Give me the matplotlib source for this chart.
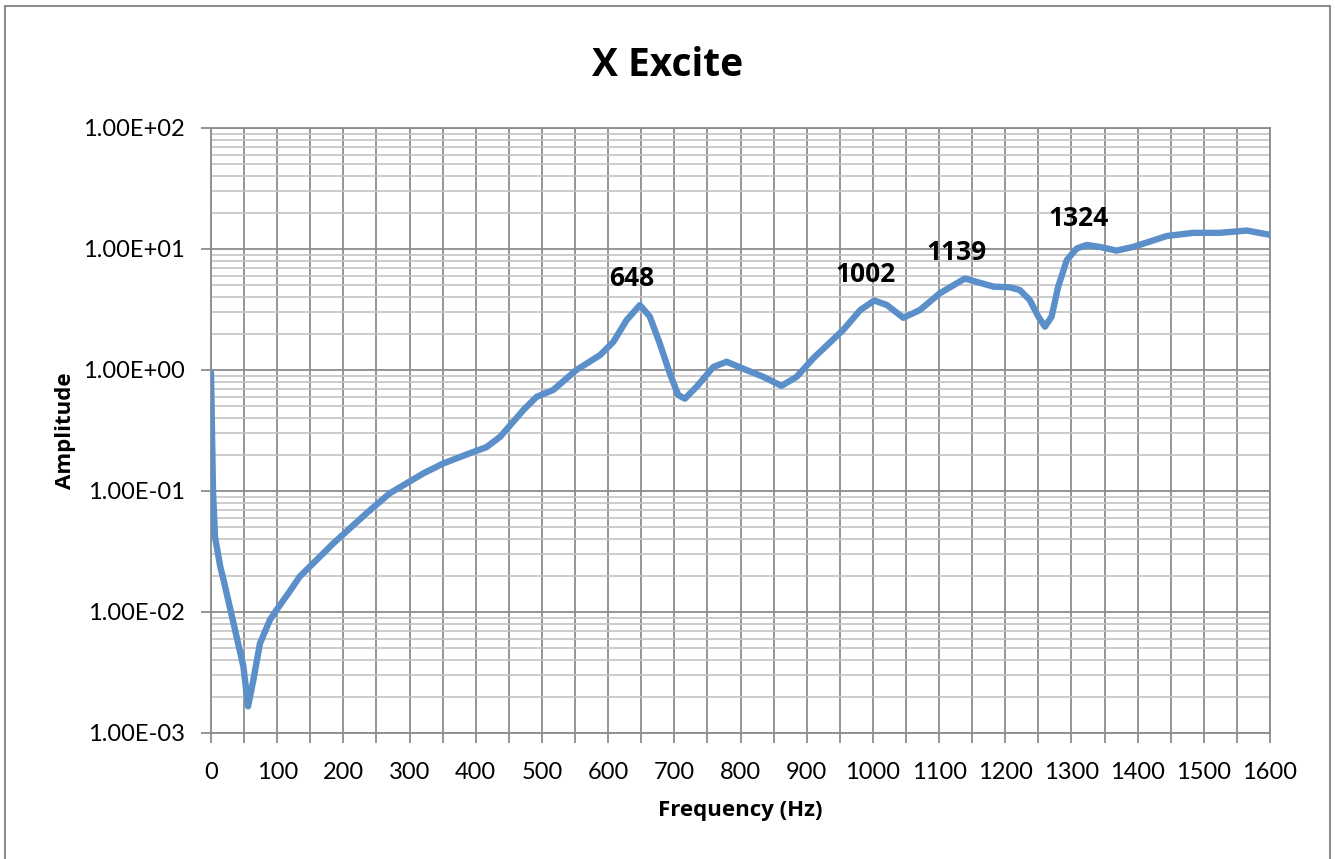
import matplotlib
matplotlib.use("Agg")
import matplotlib.pyplot as plt
from matplotlib.ticker import MultipleLocator, LogLocator, FuncFormatter, NullFormatter
from matplotlib.patches import Rectangle

plt.rcParams['font.family'] = ['Lato', 'DejaVu Sans']
BOLD = ['Open Sans', 'DejaVu Sans']

# frequency response, X excitation
freq = [0, 3, 6, 14, 19, 34, 49, 56, 64, 74, 89, 99, 117, 134, 185, 235,
        270, 321, 351, 391, 416, 437, 472, 492, 517, 552, 588, 608, 628,
        648, 663, 678, 693, 706, 716, 734, 759, 779, 809, 834, 862, 885,
        910, 955, 981, 1002, 1021, 1046, 1071, 1101, 1139, 1182, 1207,
        1222, 1237, 1250, 1260, 1270, 1280, 1293, 1308, 1323, 1343, 1368,
        1393, 1420, 1444, 1484, 1524, 1565, 1600]
amp = [0.95, 0.1, 0.042, 0.0237, 0.0184, 0.0081, 0.00353, 0.00166, 0.00274,
       0.0055, 0.0086, 0.0104, 0.0143, 0.0196, 0.037, 0.0655,
       0.0957, 0.14, 0.169, 0.205, 0.23, 0.281, 0.467, 0.60, 0.684, 1.0,
       1.33, 1.71, 2.59, 3.44, 2.76, 1.66, 0.94, 0.62, 0.58, 0.73, 1.06,
       1.17, 1.0, 0.88, 0.74, 0.88, 1.25, 2.14, 3.13, 3.75, 3.45, 2.7,
       3.13, 4.3, 5.7, 4.89, 4.82, 4.58, 3.79, 2.76, 2.28, 2.76, 4.89,
       8.1, 10.1, 10.8, 10.4, 9.7, 10.4, 11.6, 12.8, 13.6, 13.6, 14.2, 13.1]

# labelled peaks: (frequency, amplitude)
peak_freq = [648, 1002, 1139, 1324]
peak_amp = [3.44, 3.75, 5.7, 10.8]

fig = plt.figure(figsize=(13.35, 8.59), dpi=100)
ax = fig.add_axes([211 / 1335, 1 - 733 / 859, 1059 / 1335, 605 / 859])

ax.plot(freq, amp, color='#5b8fca', lw=4.6, solid_joinstyle='round',
        solid_capstyle='round', zorder=3)

ax.set_yscale('log')
ax.set_xlim(0, 1600)
ax.set_ylim(1e-3, 1e2)

ax.xaxis.set_major_locator(MultipleLocator(100))
ax.xaxis.set_minor_locator(MultipleLocator(50))
ax.yaxis.set_major_locator(LogLocator(base=10, numticks=10))
ax.yaxis.set_minor_locator(LogLocator(base=10, subs=range(2, 10), numticks=20))
ax.yaxis.set_major_formatter(FuncFormatter(lambda v, p: f"{v:.2E}"))
ax.yaxis.set_minor_formatter(NullFormatter())

ax.grid(which='major', axis='both', color='#8c8c8c', lw=1.3)
ax.grid(which='minor', axis='x', color='#8c8c8c', lw=1.3)
ax.grid(which='minor', axis='y', color='#c4c4c4', lw=1.2)
ax.set_axisbelow(True)

for s in ax.spines.values():
    s.set_color('#8c8c8c')
    s.set_linewidth(1.3)

ax.tick_params(axis='x', which='both', length=7, width=1.3, color='#8c8c8c',
               labelsize=17, pad=14)
ax.tick_params(axis='y', which='major', length=7, width=1.3, color='#8c8c8c',
               labelsize=17, pad=12)
ax.tick_params(axis='y', which='minor', length=0)

ax.set_xlabel('Frequency (Hz)', fontsize=16, fontweight='bold', family=BOLD,
              labelpad=12)
ax.set_ylabel('Amplitude', fontsize=16, fontweight='bold', family=BOLD,
              labelpad=5)
fig.text(668 / 1335, 1 - 65 / 859, 'X Excite', fontsize=28, fontweight='bold',
         family=BOLD, ha='center', va='center')

for f, a in zip(peak_freq, peak_amp):
    ax.annotate(str(f), xy=(f, a), xytext=(-6, 19), textcoords='offset points',
                ha='center', va='center', fontsize=19, fontweight='bold',
                family=BOLD)

# chart area border
fig.patches.append(Rectangle((5 / 1335, -0.01), 1325 / 1335, 1 - 6 / 859 + 0.01,
                             transform=fig.transFigure, fill=False,
                             edgecolor='#8c8c8c', lw=1.5))

fig.savefig('out.png', dpi=100)
